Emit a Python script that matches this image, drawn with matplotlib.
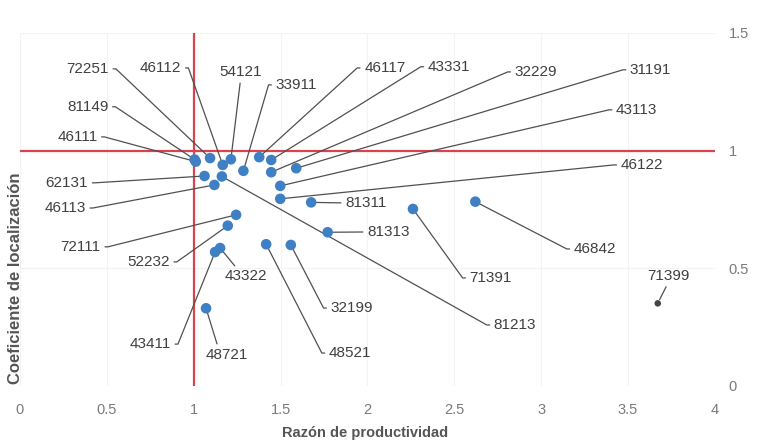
import matplotlib
matplotlib.use("Agg")
import matplotlib.pyplot as plt

# codes of the activities and their (productivity ratio, location quotient)
codes = ['46111', '81149', '72251', '46112', '54121', '33911', '46117', '43331',
         '32229', '31191', '62131', '81213', '46113', '43113', '46122', '81311',
         '72111', '52232', '43322', '43411', '48521', '32199', '81313', '48721',
         '71391', '46842', '71399']
razon = [1.012, 1.005, 1.094, 1.167, 1.214, 1.286, 1.377, 1.446,
         1.446, 1.590, 1.062, 1.162, 1.119, 1.498, 1.498, 1.676,
         1.244, 1.196, 1.152, 1.123, 1.417, 1.559, 1.771, 1.071,
         2.262, 2.621, 3.671]
coef = [0.953, 0.962, 0.968, 0.939, 0.963, 0.914, 0.972, 0.960,
        0.908, 0.925, 0.892, 0.890, 0.854, 0.850, 0.795, 0.780,
        0.727, 0.681, 0.586, 0.569, 0.602, 0.599, 0.653, 0.330,
        0.752, 0.783, 0.351]

x_ticks = [0, 0.5, 1, 1.5, 2, 2.5, 3, 3.5, 4]
y_ticks = [0, 0.5, 1, 1.5]

# where each label sits and from which side its leader line leaves
label_pos = [(0.33, 1.058), (0.39, 1.186), (0.39, 1.347), (0.81, 1.351),
             (1.27, 1.334), (1.59, 1.279), (2.10, 1.351), (2.47, 1.356),
             (2.97, 1.334), (3.63, 1.343), (0.27, 0.863), (2.85, 0.259),
             (0.26, 0.756), (3.55, 1.173), (3.58, 0.939), (1.99, 0.778),
             (0.35, 0.591), (0.74, 0.527), (1.30, 0.467), (0.75, 0.178),
             (1.90, 0.140), (1.91, 0.331), (2.12, 0.654), (1.19, 0.132),
             (2.71, 0.459), (3.31, 0.582), (3.73, 0.467)]
side = ['L', 'L', 'L', 'L', 'B', 'R', 'R', 'R',
        'R', 'R', 'L', 'R', 'L', 'R', 'R', 'R',
        'L', 'L', 'T', 'L', 'R', 'R', 'R', 'T',
        'R', 'R', 'B']

plt.rcParams['font.family'] = ['Liberation Sans', 'DejaVu Sans']

fig = plt.figure(figsize=(7.57, 4.47), dpi=100)
ax = fig.add_axes([0.0264, 0.1365, 0.918, 0.79])

ax.set_xlim(0, 4)
ax.set_ylim(0, 1.5)
ax.set_xticks(x_ticks)
ax.set_yticks(y_ticks)
ax.set_xticklabels([f'{t:g}' for t in x_ticks])
ax.set_yticklabels([f'{t:g}' for t in y_ticks])
ax.yaxis.tick_right()
ax.tick_params(length=0, labelsize=10.5, labelcolor='#7a7a7a')
ax.tick_params(axis='x', pad=12)
ax.tick_params(axis='y', pad=10)
for s in ax.spines.values():
    s.set_visible(False)
ax.grid(True, color='#f3f3f3', lw=0.8)
ax.set_axisbelow(True)

# reference lines at 1
ax.axhline(1, color='#d9434e', lw=1.6, zorder=2)
ax.axvline(1, color='#d9434e', lw=1.6, zorder=2)

colors = ['#3f7fc4'] * (len(codes) - 1) + ['#454545']
sizes = [58] * (len(codes) - 1) + [22]
ax.scatter(razon, coef, s=sizes, c=colors, zorder=4, edgecolors='none')

rel = {'L': (1, 0.5), 'R': (0, 0.5), 'T': (0.3, 1), 'B': (0.5, 0)}
for code, xv, yv, pos, sd in zip(codes, razon, coef, label_pos, side):
    if sd in ('L', 'R'):
        ang = 0 if sd == 'L' else 180
        cs = f'arc,angleA={ang},angleB=0,armA=7,armB=0,rad=0'
    else:
        cs = 'arc3'
    ax.annotate(code, xy=(xv, yv), xytext=pos, textcoords='data',
                ha='center', va='center', fontsize=11, color='#404040',
                arrowprops=dict(arrowstyle='-', color='#505050', lw=0.9,
                                relpos=rel[sd], connectionstyle=cs,
                                patchA=None, shrinkA=3, shrinkB=3),
                zorder=3)

fig.text(0.482, 0.032, 'Razón de productividad', ha='center', va='center',
         fontsize=10.5, fontweight='bold', color='#555555')
fig.text(0.02, 0.378, 'Coeficiente de localización', ha='center', va='center',
         rotation=90, fontsize=12, fontweight='bold', color='#555555')

fig.savefig('out.png', dpi=100)
